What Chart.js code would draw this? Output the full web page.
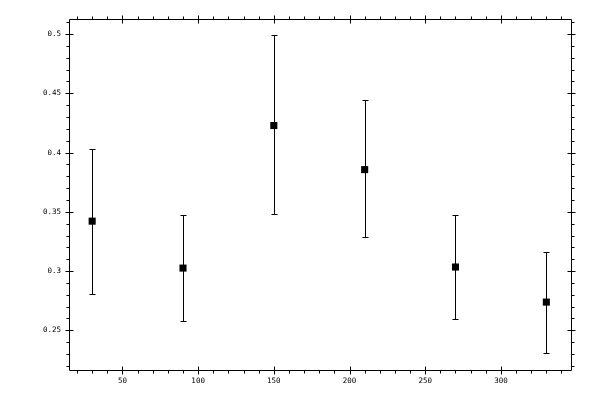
<!DOCTYPE html>
<html>
<head>
<meta charset="utf-8">
<script src="https://cdn.jsdelivr.net/npm/chart.js@4.4.1/dist/chart.umd.min.js"></script>
<style>
  html, body { margin: 0; padding: 0; background: #fff; }
  #wrap { width: 600px; height: 400px; }
</style>
</head>
<body>
<div id="wrap"><canvas id="chart"></canvas></div>
<script>
// values
const xValues = [30, 90, 150, 210, 270, 330];
const yValues = [0.3421, 0.3025, 0.4228, 0.3856, 0.3034, 0.2738];
const yLow    = [0.2806, 0.2578, 0.3481, 0.3286, 0.2597, 0.2306];
const yHigh   = [0.4034, 0.3472, 0.4992, 0.4441, 0.3472, 0.3160];

const xTicks = [50, 100, 150, 200, 250, 300];
const yTicks = [0.25, 0.3, 0.35, 0.4, 0.45, 0.5];
const xMinor = 10;
const yMinor = 0.01;

// error bars with caps
const errorBars = {
    id: 'errorBars',
    afterDatasetsDraw(chart) {
        const ctx = chart.ctx;
        const xs = chart.scales.x, ys = chart.scales.y;
        ctx.save();
        ctx.strokeStyle = '#000';
        ctx.lineWidth = 1;
        xValues.forEach((xv, i) => {
            const px = Math.round(xs.getPixelForValue(xv)) + 0.5;
            const lo = Math.round(ys.getPixelForValue(yLow[i])) + 0.5;
            const hi = Math.round(ys.getPixelForValue(yHigh[i])) + 0.5;
            ctx.beginPath();
            ctx.moveTo(px, lo); ctx.lineTo(px, hi);
            ctx.moveTo(px - 3, lo); ctx.lineTo(px + 3, lo);
            ctx.moveTo(px - 3, hi); ctx.lineTo(px + 3, hi);
            ctx.stroke();
        });
        ctx.restore();
    }
};

// frame plus major/minor ticks on all four sides
const frameTicks = {
    id: 'frameTicks',
    afterDraw(chart) {
        const ctx = chart.ctx;
        const a = chart.chartArea;
        const xs = chart.scales.x, ys = chart.scales.y;
        const L = Math.round(a.left) + 0.5, R = Math.round(a.right) + 0.5;
        const T = Math.round(a.top) + 0.5, B = Math.round(a.bottom) + 0.5;
        ctx.save();
        ctx.strokeStyle = '#000';
        ctx.lineWidth = 1;
        ctx.beginPath();
        ctx.rect(L, T, R - L, B - T);

        for (let v = Math.ceil(xs.min / xMinor) * xMinor; v <= xs.max; v += xMinor) {
            const p = Math.round(xs.getPixelForValue(v)) + 0.5;
            const major = xTicks.includes(v);
            ctx.moveTo(p, B - (major ? 4 : 0)); ctx.lineTo(p, B + (major ? 4 : 3));
            ctx.moveTo(p, T + (major ? 4 : 0)); ctx.lineTo(p, T - (major ? 4 : 3));
        }
        for (let k = Math.ceil(ys.min / yMinor); k * yMinor <= ys.max; k++) {
            const v = k * yMinor;
            const p = Math.round(ys.getPixelForValue(v)) + 0.5;
            const major = yTicks.some(t => Math.abs(t - v) < 1e-9);
            ctx.moveTo(L + (major ? 4 : 0), p); ctx.lineTo(L - (major ? 4 : 3), p);
            ctx.moveTo(R - (major ? 4 : 0), p); ctx.lineTo(R + (major ? 4 : 3), p);
        }
        ctx.stroke();
        ctx.restore();
    }
};

const tickFont = { family: 'DejaVu Sans Mono', size: 7.5 };

new Chart(document.getElementById('chart'), {
    type: 'scatter',
    data: {
        datasets: [{
            data: xValues.map((x, i) => ({ x: x, y: yValues[i] })),
            pointStyle: 'rect',
            pointRadius: 5,
            pointHoverRadius: 5,
            pointBorderWidth: 0,
            backgroundColor: '#000',
            borderColor: '#000'
        }]
    },
    options: {
        responsive: true,
        maintainAspectRatio: false,
        animation: false,
        events: [],
        layout: { padding: { top: 19, right: 29, left: 0, bottom: 0 } },
        plugins: { legend: { display: false }, tooltip: { enabled: false } },
        scales: {
            x: {
                type: 'linear',
                min: 14.7,
                max: 346.3,
                grid: { display: false, drawTicks: false },
                border: { display: false },
                afterBuildTicks: s => { s.ticks = xTicks.map(v => ({ value: v })); },
                afterFit: s => { s.height = 30; },
                ticks: { color: '#000', font: tickFont, padding: 7, maxRotation: 0,
                         callback: v => String(v) }
            },
            y: {
                type: 'linear',
                min: 0.2165,
                max: 0.5127,
                grid: { display: false, drawTicks: false },
                border: { display: false },
                afterBuildTicks: s => { s.ticks = yTicks.map(v => ({ value: v })); },
                afterFit: s => { s.width = 69; },
                ticks: { color: '#000', font: tickFont, padding: 8,
                         callback: v => String(+v.toFixed(2)) }
            }
        }
    },
    plugins: [errorBars, frameTicks]
});
</script>
</body>
</html>
